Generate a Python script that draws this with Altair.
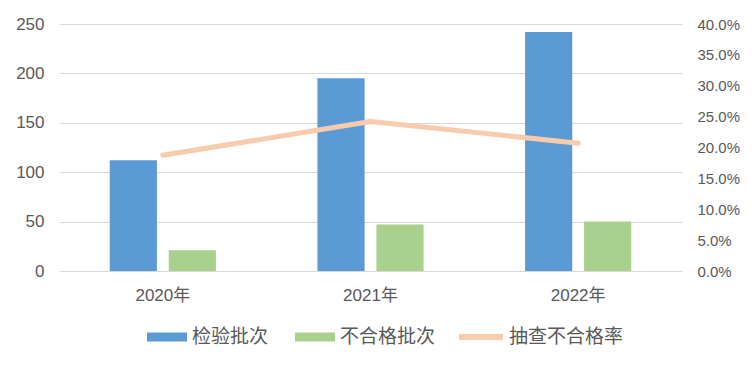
import altair as alt
import pandas as pd

years = ["2020年", "2021年", "2022年"]
inspected = [112, 195, 242]
failed = [21, 47, 50]
rate = [0.1875, 0.242, 0.207]
bar_series = ["检验批次", "不合格批次"]
line_series = ["抽查不合格率"]
left_ticks = [0, 50, 100, 150, 200, 250]
right_ticks = [0, 0.05, 0.10, 0.15, 0.20, 0.25, 0.30, 0.35, 0.40]

bars_df = pd.DataFrame({
    "year": years * 2,
    "series": [bar_series[0]] * 3 + [bar_series[1]] * 3,
    "value": inspected + failed,
})
line_df = pd.DataFrame({"year": years, "rate": rate, "series": line_series * 3})

FONT = "Liberation Sans, Noto Sans CJK SC"
TXT = "#595959"
RECT = "M-1,-0.23L1,-0.23L1,0.23L-1,0.23Z"

x_enc = alt.X(
    "year:N", sort=years,
    scale=alt.Scale(paddingInner=0, paddingOuter=0),
    axis=alt.Axis(title=None, labelAngle=0, ticks=False, domain=False,
                  labelPadding=16, labelFontSize=17, labelColor=TXT, labelFont=FONT),
)

bars = alt.Chart(bars_df).mark_bar().encode(
    x=x_enc,
    xOffset=alt.XOffset("series:N", sort=bar_series,
                        scale=alt.Scale(domain=bar_series, paddingInner=0.2, paddingOuter=0.86)),
    y=alt.Y("value:Q", scale=alt.Scale(domain=[0, 250]),
            axis=alt.Axis(title=None, values=left_ticks, grid=True, gridColor="#D9D9D9",
                          gridWidth=1, ticks=False, domain=False, labelPadding=15,
                          labelFontSize=17, labelColor=TXT, labelFont=FONT)),
    color=alt.Color("series:N", sort=bar_series,
                    scale=alt.Scale(domain=bar_series, range=["#5B9BD5", "#A9D18E"]),
                    legend=alt.Legend(title=None, orient="none", legendX=88, legendY=293,
                                      direction="horizontal", symbolType=RECT, symbolSize=1600,
                                      symbolStrokeWidth=0, labelFontSize=19, labelColor=TXT,
                                      labelFont=FONT, labelOffset=5, columnPadding=26)),
)

line = alt.Chart(line_df).mark_line(strokeWidth=5, strokeCap="round", strokeJoin="round").encode(
    x=alt.X("year:N", sort=years),
    y=alt.Y("rate:Q", scale=alt.Scale(domain=[0, 0.4]),
            axis=alt.Axis(title=None, orient="right", format=".1%", values=right_ticks,
                          grid=False, ticks=False, domain=False, labelPadding=15,
                          labelFontSize=15, labelColor=TXT, labelFont=FONT)),
    stroke=alt.Stroke("series:N",
                      scale=alt.Scale(domain=line_series, range=["#F8CBAD"]),
                      legend=alt.Legend(title=None, orient="none", legendX=397, legendY=288,
                                        direction="horizontal", symbolType="stroke",
                                        symbolSize=1936, symbolStrokeWidth=6,
                                        labelFontSize=19, labelColor=TXT, labelFont=FONT,
                                        labelOffset=3)),
)

chart = (
    alt.layer(bars, line)
    .resolve_scale(y="independent", color="independent")
    .properties(
        width=623, height=247,
        autosize=alt.AutoSizeParams(type="none"),
        padding={"left": 51, "top": 16, "right": 65, "bottom": 88},
        background="white",
    )
    .configure_view(stroke=None)
)

chart.save("out.html", embed_options={"renderer": "svg", "actions": False})
